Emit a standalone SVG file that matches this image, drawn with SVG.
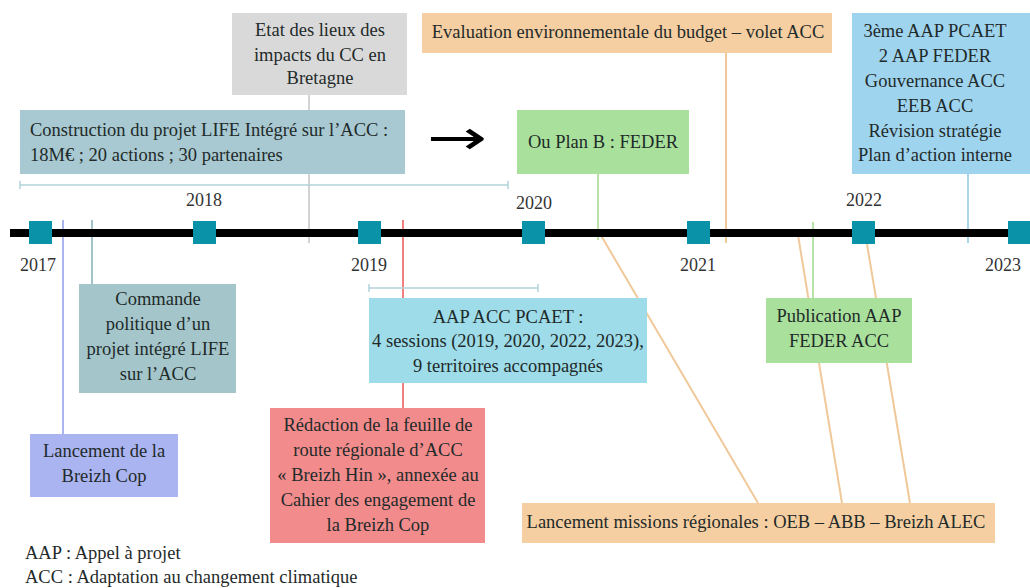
<svg xmlns="http://www.w3.org/2000/svg" width="1030" height="588" viewBox="0 0 1030 588">
<style>
text{font-family:"Liberation Serif","Times New Roman",serif;font-size:18.5px;fill:#1f2a2a}
.c{text-anchor:middle}
.yr{font-size:18px;fill:#333;text-anchor:middle}
.sq{fill:#0a93a8}
.ln{fill:none;stroke-width:2}
</style>
<rect width="1030" height="588" fill="#fff"/>
<g id="connectors">
<line class="ln" x1="309" y1="95" x2="309" y2="243" stroke="#d3d3d3"/>
<line class="ln" x1="726" y1="53" x2="726" y2="243" stroke="#f0c99b"/>
<line class="ln" x1="598" y1="174" x2="598" y2="240" stroke="#b8e2a8"/>
<line class="ln" x1="968" y1="174" x2="968" y2="243" stroke="#a9d4ee"/>
<line class="ln" x1="63" y1="220" x2="63" y2="434" stroke="#aab4ef"/>
<line class="ln" x1="92" y1="220" x2="92" y2="284" stroke="#a4c3c6"/>
<line class="ln" x1="403" y1="220" x2="403" y2="408" stroke="#f07f7f"/>
<line class="ln" x1="813" y1="222" x2="813" y2="298" stroke="#b8e2a8"/>
<line class="ln" x1="599" y1="232" x2="758" y2="503" stroke="#f0c99b"/>
<line class="ln" x1="798" y1="235" x2="842" y2="503" stroke="#f0c99b"/>
<line class="ln" x1="867" y1="244" x2="910" y2="503" stroke="#f0c99b"/>
<g stroke="#b2d3d9" stroke-width="1.5">
<line x1="20" y1="185" x2="508" y2="185"/><line x1="20" y1="181" x2="20" y2="189"/><line x1="508" y1="181" x2="508" y2="189"/>
<line x1="369" y1="288" x2="538" y2="288"/><line x1="369" y1="284" x2="369" y2="292"/><line x1="538" y1="284" x2="538" y2="292"/>
</g>
</g>
<g id="timeline">
<line x1="10" y1="233" x2="1030" y2="233" stroke="#000" stroke-width="8"/>
<rect class="sq" x="29" y="221" width="23" height="23"/>
<rect class="sq" x="193" y="221" width="23" height="23"/>
<rect class="sq" x="358" y="221" width="23" height="23"/>
<rect class="sq" x="522" y="221" width="23" height="23"/>
<rect class="sq" x="687" y="221" width="23" height="23"/>
<rect class="sq" x="852" y="221" width="23" height="23"/>
<rect class="sq" x="1008" y="221" width="23" height="23"/>
<text class="yr" x="38" y="271">2017</text>
<text class="yr" x="204" y="206">2018</text>
<text class="yr" x="369" y="271">2019</text>
<text class="yr" x="534" y="209">2020</text>
<text class="yr" x="698" y="271">2021</text>
<text class="yr" x="864" y="206">2022</text>
<text class="yr" x="1003" y="271">2023</text>
</g>
<g id="arrow">
<text transform="translate(457,154) scale(1.5,1)" class="c" style="font-family:'DejaVu Sans',sans-serif;font-size:48px;fill:#000">→</text>
</g>
<g id="etat">
<rect x="232" y="13" width="175" height="82" fill="#d9d9d9"/>
<text class="c" x="320" y="36">Etat des lieux des</text>
<text class="c" x="320" y="61">impacts du CC en</text>
<text class="c" x="320" y="84">Bretagne</text>
</g>
<g id="construction">
<rect x="20" y="110" width="385" height="64" fill="#a8c9d1"/>
<text x="30" y="136">Construction du projet LIFE Intégré sur l’ACC :</text>
<text x="30" y="161">18M€ ; 20 actions ; 30 partenaires</text>
</g>
<g id="evaluation">
<rect x="422" y="13" width="410" height="40" fill="#f5cfa1"/>
<text class="c" x="628" y="38">Evaluation environnementale du budget – volet ACC</text>
</g>
<g id="planb">
<rect x="517" y="110" width="172" height="64" fill="#a9e19c"/>
<text class="c" x="603" y="148">Ou Plan B : FEDER</text>
</g>
<g id="aap3">
<rect x="852" y="13" width="180" height="161" fill="#9fd4ee"/>
<text class="c" x="935" y="37">3ème AAP PCAET</text>
<text class="c" x="935" y="62">2 AAP FEDER</text>
<text class="c" x="935" y="87">Gouvernance ACC</text>
<text class="c" x="935" y="112">EEB ACC</text>
<text class="c" x="935" y="137">Révision stratégie</text>
<text class="c" x="935" y="161">Plan d’action interne</text>
</g>
<g id="commande">
<rect x="79" y="284" width="157" height="109" fill="#a4c6ca"/>
<text class="c" x="158" y="305">Commande</text>
<text class="c" x="158" y="330">politique d’un</text>
<text class="c" x="158" y="355">projet intégré LIFE</text>
<text class="c" x="158" y="380">sur l’ACC</text>
</g>
<g id="breizhcop">
<rect x="30" y="434" width="148" height="63" fill="#aab4f0"/>
<text class="c" x="104" y="457">Lancement de la</text>
<text class="c" x="104" y="482">Breizh Cop</text>
</g>
<g id="aappcaet">
<rect x="369" y="298" width="278" height="85" fill="#9ddce8"/>
<text class="c" x="508" y="323">AAP ACC PCAET :</text>
<text class="c" x="508" y="347">4 sessions (2019, 2020, 2022, 2023),</text>
<text class="c" x="508" y="372">9 territoires accompagnés</text>
</g>
<g id="redaction">
<rect x="270" y="408" width="215" height="135" fill="#f28c8c"/>
<text class="c" x="378" y="431">Rédaction de la feuille de</text>
<text class="c" x="378" y="456">route régionale d’ACC</text>
<text class="c" x="378" y="481">« Breizh Hin », annexée au</text>
<text class="c" x="378" y="506">Cahier des engagement de</text>
<text class="c" x="378" y="531">la Breizh Cop</text>
</g>
<g id="publication">
<rect x="766" y="298" width="146" height="65" fill="#a9e19c"/>
<text class="c" x="839" y="322">Publication AAP</text>
<text class="c" x="839" y="347">FEDER ACC</text>
</g>
<g id="missions">
<rect x="522" y="503" width="473" height="40" fill="#f5cfa1"/>
<text class="c" x="756" y="528">Lancement missions régionales : OEB – ABB – Breizh ALEC</text>
</g>
<g id="legend">
<text x="25" y="559">AAP : Appel à projet</text>
<text x="25" y="583">ACC : Adaptation au changement climatique</text>
</g>
</svg>
